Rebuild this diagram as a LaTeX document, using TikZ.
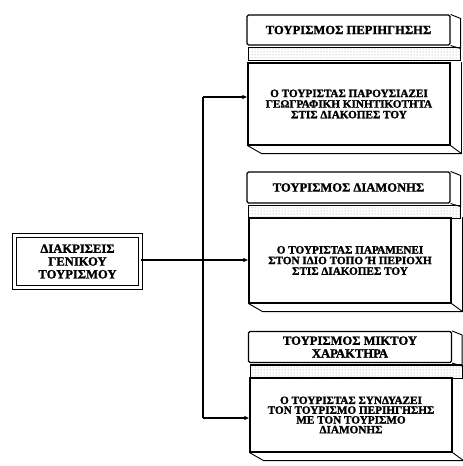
\documentclass[tikz,border=0pt]{standalone}
\usepackage{fontspec}
\setmainfont{Liberation Serif}[BoldFeatures={FakeBold=1.6}]
\usetikzlibrary{arrows.meta,patterns}
\begin{document}
\begin{tikzpicture}[x=1pt,y=-1pt,
  txt/.style={font=\bfseries\fontsize{11.2}{10.6}\selectfont,align=center},
  bigtxt/.style={font=\bfseries\fontsize{12.6}{12.8}\selectfont,align=center},
  titlebox/.style={bigtxt,draw,line width=1.1pt,rounded corners=1.5pt,minimum width=203pt,inner sep=0pt},
  bodybox/.style={txt,draw,line width=1.1pt,minimum width=202pt,inner sep=0pt},
  face/.style={draw,line width=0.9pt,line join=round},
  strip/.style={draw,line width=0.8pt,pattern=dots,pattern color=black!40},
  link/.style={draw,line width=1.1pt},
  arr/.style={link,-{Latex[length=5pt,width=4.5pt]}}
]
\useasboundingbox (0,0) rectangle (463,466);

% left box
\node[bigtxt,draw,line width=1pt,double,double distance=3.2pt,minimum width=126pt,minimum height=52pt,inner sep=0pt]
  (gen) at (77.5,261.5) {ΔΙΑΚΡΙΣΕΙΣ\\ΓΕΝΙΚΟΥ\\ΤΟΥΡΙΣΜΟΥ};

% group 1
\node[titlebox,minimum height=30pt] (t1) at (348.5,30) {ΤΟΥΡΙΣΜΟΣ ΠΕΡΙΗΓΗΣΗΣ};
\node[bodybox,minimum height=82pt] (b1) at (349,104) {Ο ΤΟΥΡΙΣΤΑΣ ΠΑΡΟΥΣΙΑΖΕΙ\\ΓΕΩΓΡΑΦΙΚΗ ΚΙΝΗΤΙΚΟΤΗΤΑ\\ΣΤΙΣ ΔΙΑΚΟΠΕΣ ΤΟΥ};
% group 2
\node[titlebox,minimum height=31pt] (t2) at (348.5,187.5) {ΤΟΥΡΙΣΜΟΣ ΔΙΑΜΟΝΗΣ};
\node[bodybox,minimum height=85pt] (b2) at (350,260.5) {Ο ΤΟΥΡΙΣΤΑΣ ΠΑΡΑΜΕΝΕΙ\\ΣΤΟΝ ΙΔΙΟ ΤΟΠΟ Ή ΠΕΡΙΟΧΗ\\ΣΤΙΣ ΔΙΑΚΟΠΕΣ ΤΟΥ};
% group 3
\node[titlebox,minimum height=31pt] (t3) at (350,347) {ΤΟΥΡΙΣΜΟΣ ΜΙΚΤΟΥ\\ΧΑΡΑΚΤΗΡΑ};
\node[bodybox,minimum height=74pt,font=\bfseries\fontsize{11.2}{9.8}\selectfont] (b3) at (351,415) {Ο ΤΟΥΡΙΣΤΑΣ ΣΥΝΔΥΑΖΕΙ\\ΤΟΝ ΤΟΥΡΙΣΜΟ ΠΕΡΙΗΓΗΣΗΣ\\ΜΕ ΤΟΝ ΤΟΥΡΙΣΜΟ\\ΔΙΑΜΟΝΗΣ};

% 3D faces
\foreach \t/\b in {t1/b1,t2/b2,t3/b3}{
  \path[face] (\t.north east) -- ([shift={(10,4)}]\t.north east) -- ([shift={(10,3)}]\t.south east) -- (\t.south east);
  \path[strip] ([shift={(2,2)}]\t.south west) rectangle ([shift={(10,15)}]\t.south east);
  \draw[line width=1.8pt] ([shift={(2,2)}]\t.south west) -- ([shift={(10,2)}]\t.south east);
  \path[face] (\b.south west) -- ([shift={(14,8)}]\b.south west) -- ([shift={(11,8)}]\b.south east) -- (\b.south east);
  \path[face,line width=0.6pt] ([shift={(11,0)}]\b.north east) -- ([shift={(11,8)}]\b.south east);
}

% connectors
\coordinate (j1) at (203,97);
\coordinate (j2) at (203,260);
\coordinate (j3) at (203,418);
\path[link] (j1) -- (j3);
\path[arr] (gen.east |- j2) -- (j2) -- (j2 -| b2.west);
\path[arr] (j1) -- (j1 -| b1.west);
\path[arr] (j3) -- (j3 -| b3.west);
\end{tikzpicture}
\end{document}
